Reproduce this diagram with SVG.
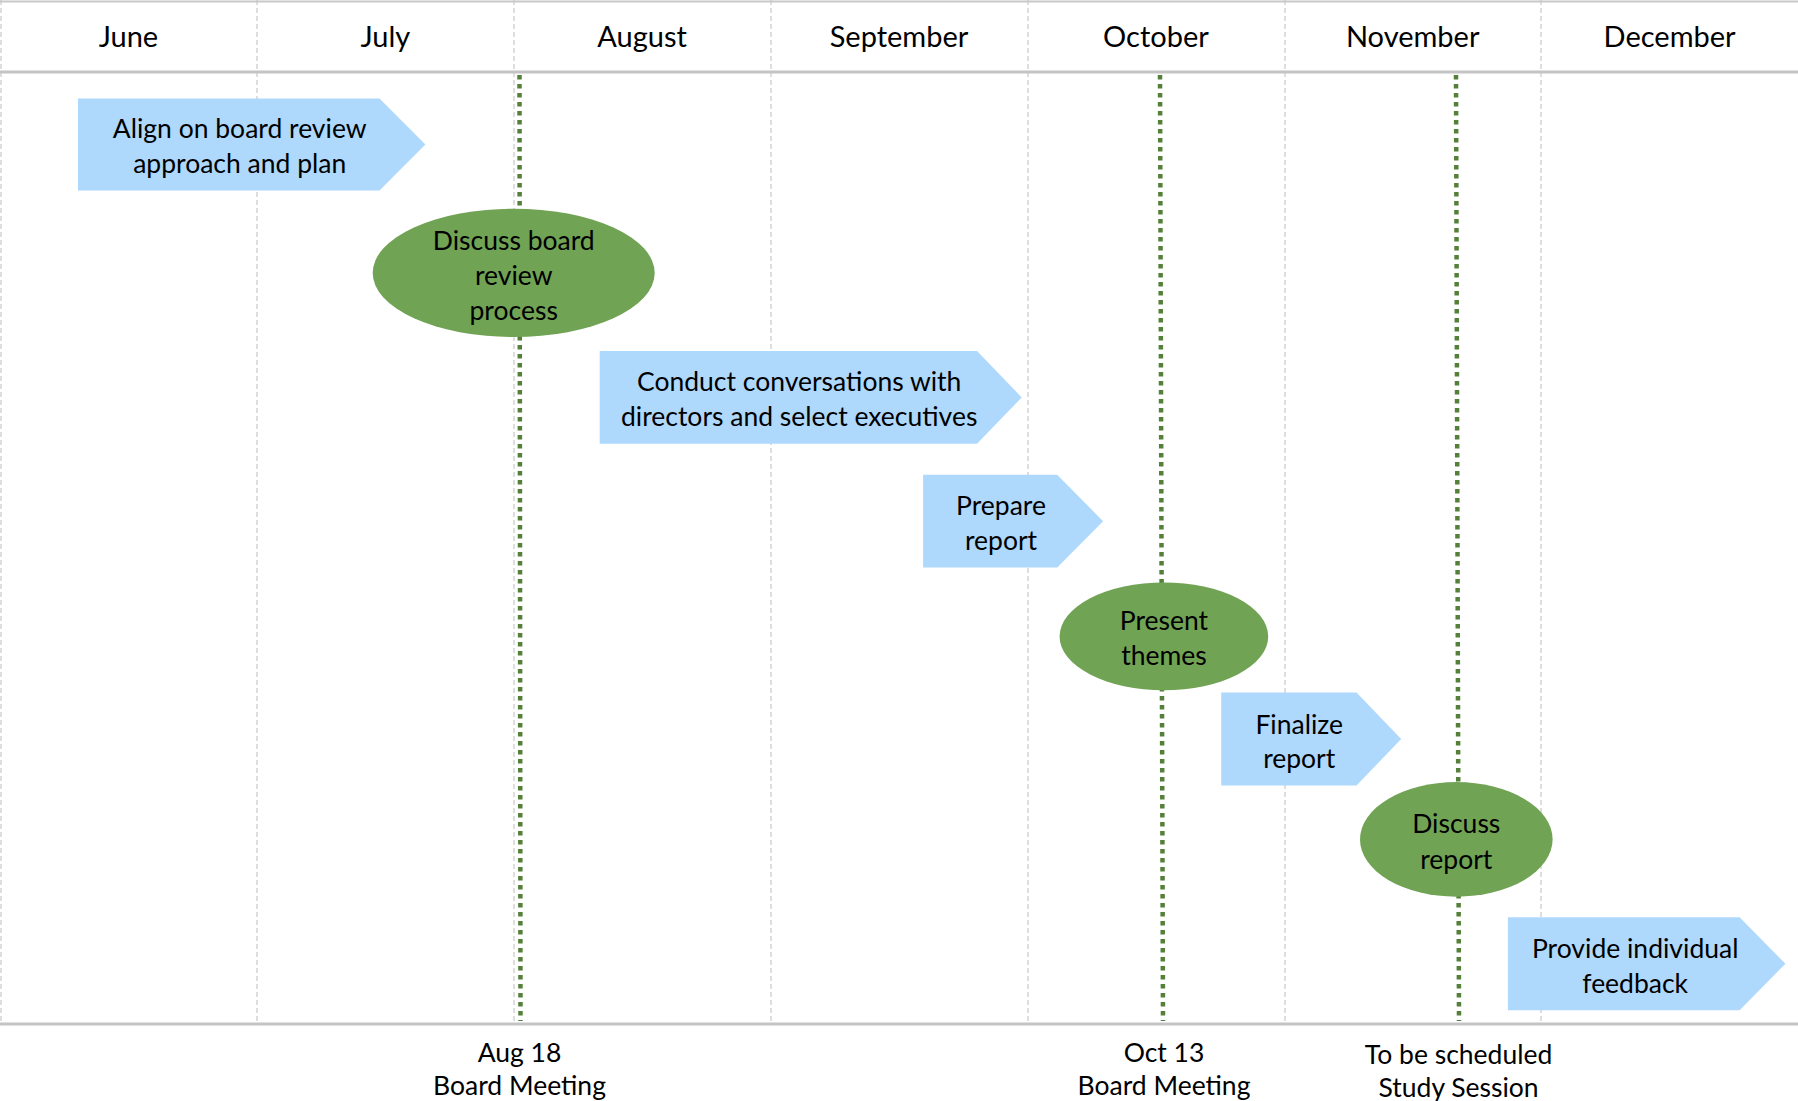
<svg xmlns="http://www.w3.org/2000/svg" width="1798" height="1101" viewBox="0 0 1798 1101">
<style>
.grid{stroke:#c8c8c8;stroke-width:1.2;stroke-dasharray:5 3;fill:none}
.rule{stroke:#c4c4c4;stroke-width:3;fill:none}
.mile{stroke:#55803a;stroke-width:4.5;stroke-dasharray:4.5 4.5;fill:none}
.task{fill:#afd8fd}
.event{fill:#71a354}
text{font-family:Lato,"Open Sans","Liberation Sans",sans-serif;fill:#000;text-anchor:middle}
.month{font-size:29px}
.lbl{font-size:26.5px}
</style>
<rect x="0" y="0" width="1798" height="1101" fill="#fff"/>
<g id="grid">
<line class="grid" x1="1" y1="0" x2="1" y2="1024"/>
<line class="grid" x1="257" y1="0" x2="257" y2="1024"/>
<line class="grid" x1="514" y1="0" x2="514" y2="1024"/>
<line class="grid" x1="771" y1="0" x2="771" y2="1024"/>
<line class="grid" x1="1028" y1="0" x2="1028" y2="1024"/>
<line class="grid" x1="1285" y1="0" x2="1285" y2="1024"/>
<line class="grid" x1="1541" y1="0" x2="1541" y2="1024"/>
<line x1="0" y1="1.5" x2="1798" y2="1.5" stroke="#c8c8c8" stroke-width="2"/>
<line class="rule" x1="0" y1="72" x2="1798" y2="72"/>
<line class="rule" x1="0" y1="1024" x2="1798" y2="1024"/>
</g>
<g id="months">
<text class="month" x="128.4" y="47">June</text>
<text class="month" x="385.3" y="47">July</text>
<text class="month" x="642.1" y="47">August</text>
<text class="month" x="899" y="47">September</text>
<text class="month" x="1155.9" y="47">October</text>
<text class="month" x="1412.7" y="47">November</text>
<text class="month" x="1669.6" y="47">December</text>
</g>
<g id="connectors">
<line class="mile" x1="519.5" y1="75" x2="520.5" y2="1021"/>
<line class="mile" x1="1160" y1="75" x2="1163" y2="1021"/>
<line class="mile" x1="1456" y1="75" x2="1459" y2="1021"/>
</g>
<g id="task-align">
<polygon class="task" points="78,98.6 379.5,98.6 425.4,144.5 379.5,190.4 78,190.4"/>
<text class="lbl" x="239.7" y="138.4">Align on board review</text>
<text class="lbl" x="239.7" y="172.8">approach and plan</text>
</g>
<g id="event-discuss-board">
<ellipse class="event" cx="513.7" cy="272.9" rx="141" ry="64.2"/>
<text class="lbl" x="513.7" y="249.7">Discuss board</text>
<text class="lbl" x="513.7" y="285.2">review</text>
<text class="lbl" x="513.7" y="319.6">process</text>
</g>
<g id="task-conduct">
<polygon class="task" points="599.7,350.9 977,350.9 1021.7,397.4 977,443.8 599.7,443.8"/>
<text class="lbl" x="799.2" y="390.7">Conduct conversations with</text>
<text class="lbl" x="799.2" y="426.2">directors and select executives</text>
</g>
<g id="task-prepare">
<polygon class="task" points="923.1,474.7 1057.2,474.7 1103.1,521.2 1057.2,567.6 923.1,567.6"/>
<text class="lbl" x="1001" y="514.5">Prepare</text>
<text class="lbl" x="1001" y="550.1">report</text>
</g>
<g id="event-present">
<ellipse class="event" cx="1163.9" cy="636.4" rx="104.3" ry="53.9"/>
<text class="lbl" x="1163.9" y="630.4">Present</text>
<text class="lbl" x="1163.9" y="664.8">themes</text>
</g>
<g id="task-finalize">
<polygon class="task" points="1221.2,692.6 1356.5,692.6 1401.2,739 1356.5,785.5 1221.2,785.5"/>
<text class="lbl" x="1299.2" y="733.6">Finalize</text>
<text class="lbl" x="1299.2" y="768">report</text>
</g>
<g id="event-discuss-report">
<ellipse class="event" cx="1456.3" cy="839.4" rx="96.3" ry="57.3"/>
<text class="lbl" x="1456.3" y="833.3">Discuss</text>
<text class="lbl" x="1456.3" y="868.9">report</text>
</g>
<g id="task-feedback">
<polygon class="task" points="1507.9,917.3 1739.6,917.3 1785.4,963.7 1739.6,1010.2 1507.9,1010.2"/>
<text class="lbl" x="1635.2" y="958.3">Provide individual</text>
<text class="lbl" x="1635.2" y="992.7">feedback</text>
</g>
<g id="milestones">
<text class="lbl" x="519.5" y="1061.5">Aug 18</text>
<text class="lbl" x="519.5" y="1094.8">Board Meeting</text>
<text class="lbl" x="1164" y="1061.5">Oct 13</text>
<text class="lbl" x="1164" y="1094.8">Board Meeting</text>
<text class="lbl" x="1458.6" y="1063.8">To be scheduled</text>
<text class="lbl" x="1458.6" y="1097">Study Session</text>
</g>
</svg>
